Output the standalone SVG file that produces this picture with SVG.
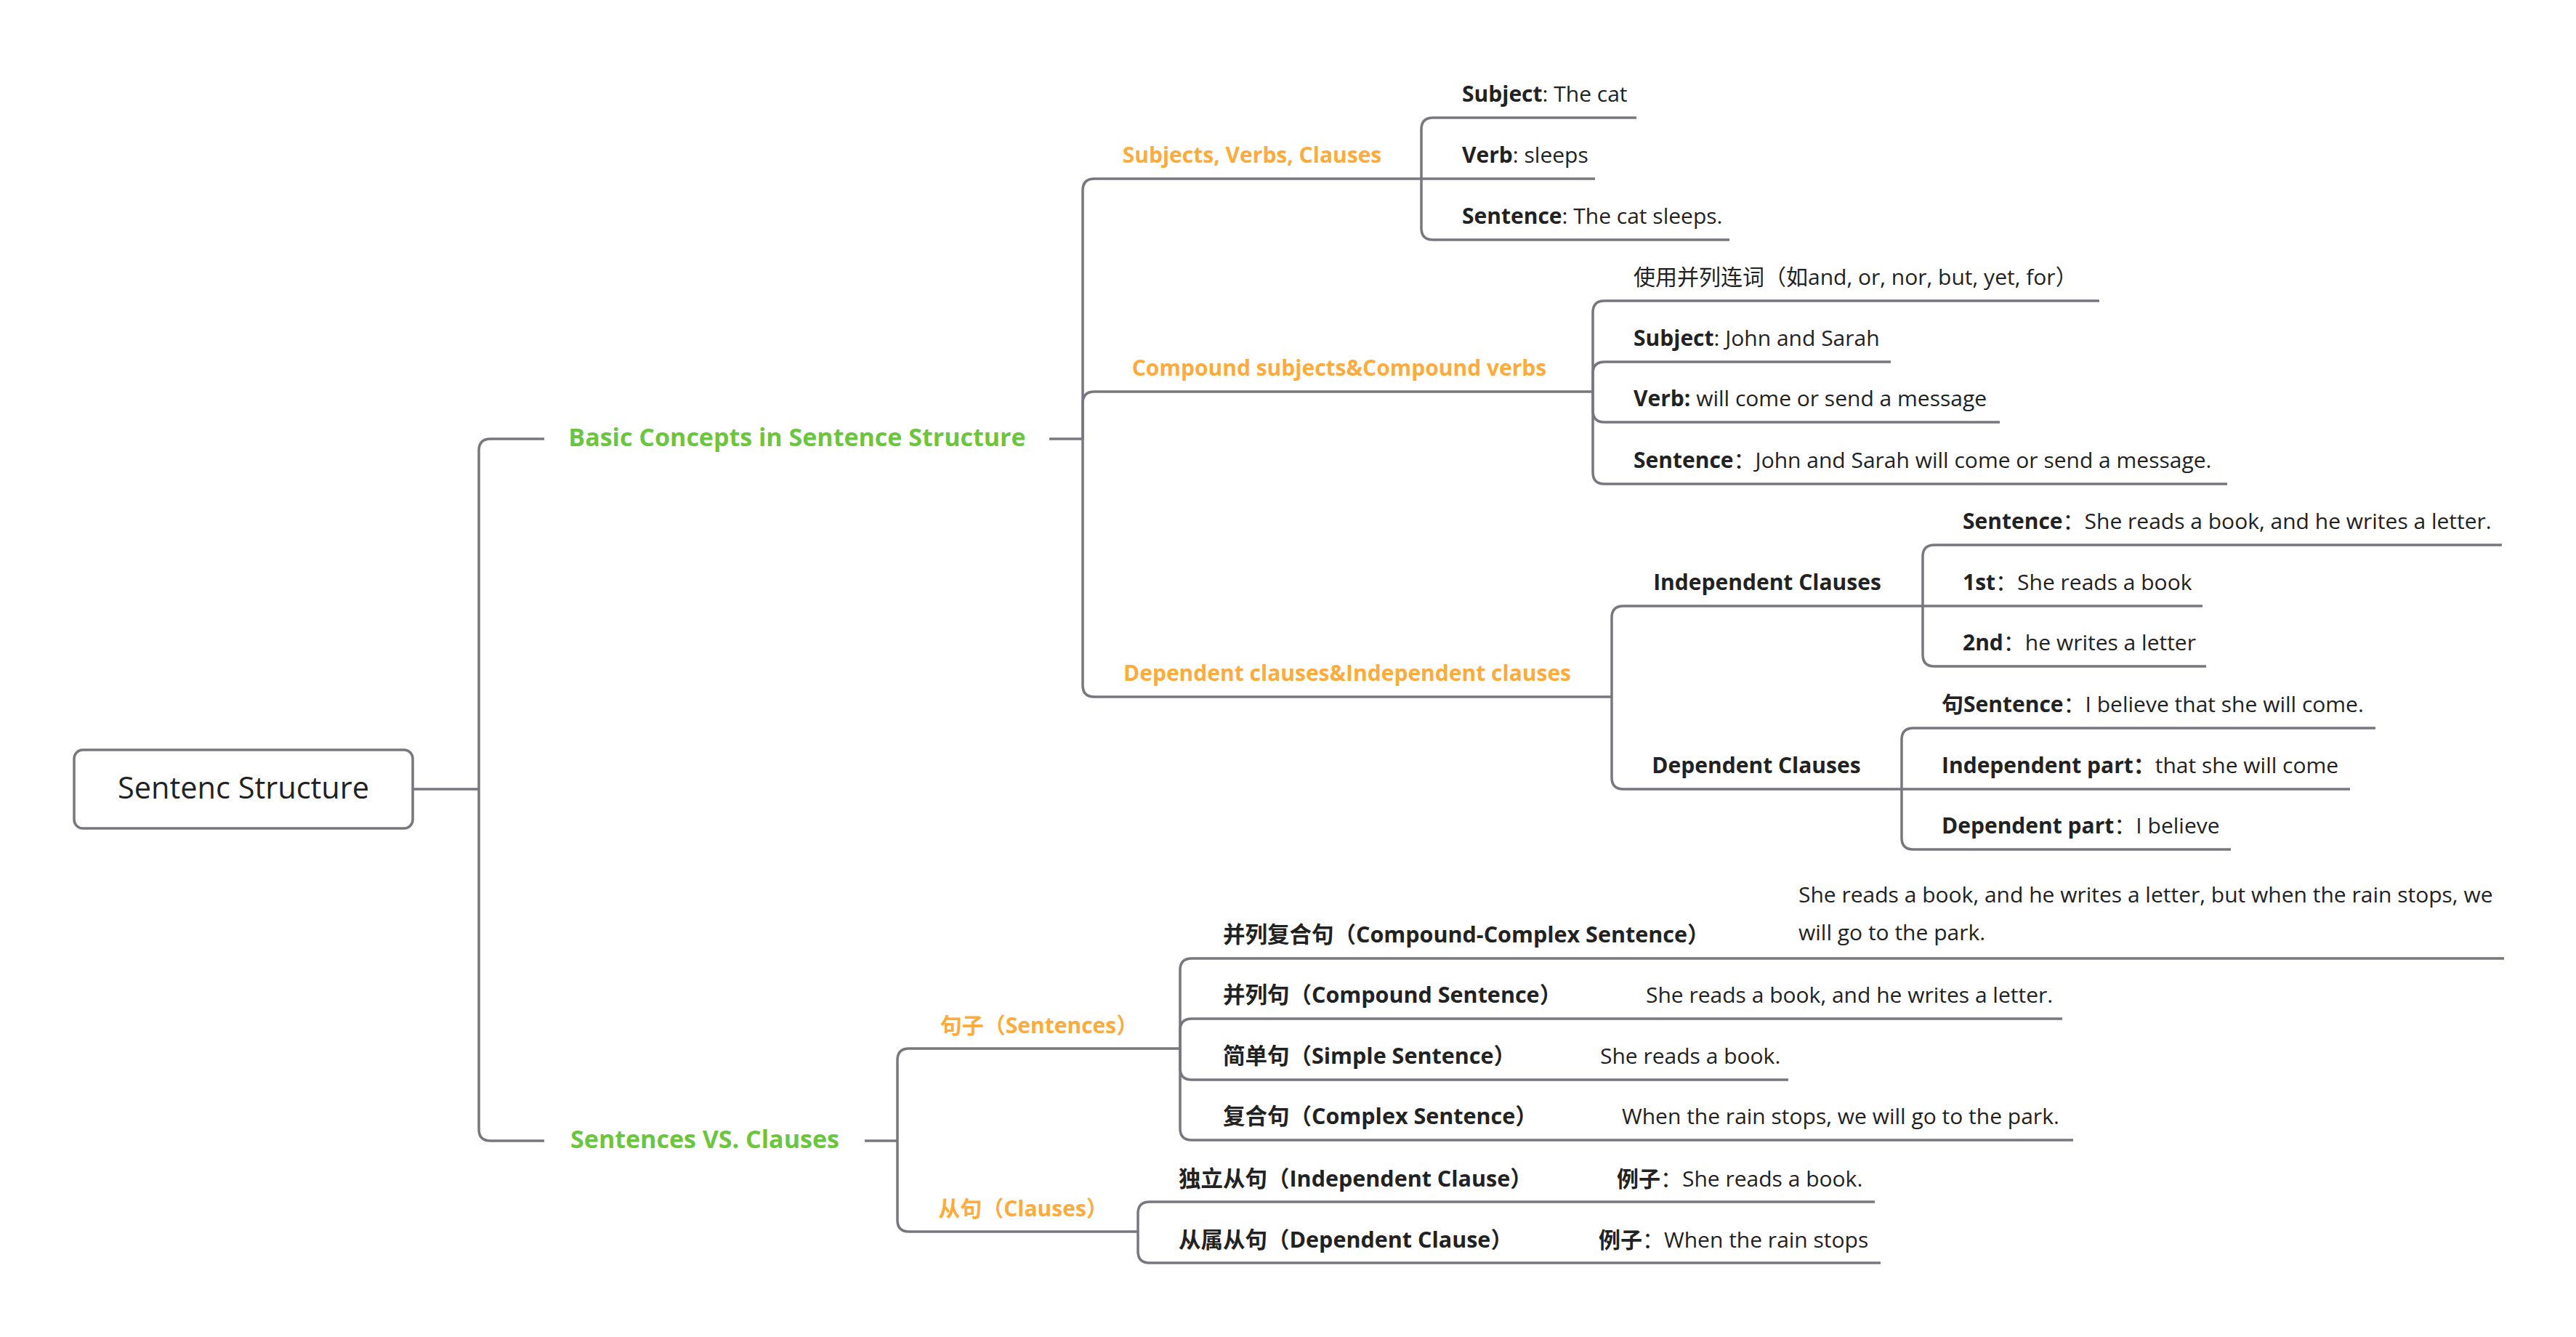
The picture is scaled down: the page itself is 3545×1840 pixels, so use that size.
<svg xmlns="http://www.w3.org/2000/svg" width="3545" height="1840" viewBox="0 0 3545 1840">
<style>
text{font-family:"Open Sans","Noto Sans CJK SC",sans-serif;fill:#222222}
.root{font-size:41.5px}
.l1{font-size:34px;font-weight:700;fill:#6cc53e}
.l2{font-size:30px;font-weight:700;fill:#fdab3b}
.lf{font-size:30px}
.lc{font-size:30.5px}
.b{font-weight:700}
.mid{text-anchor:middle}
.c path{fill:none;stroke:#77777f;stroke-width:3.5}
</style>
<rect width="3545" height="1840" fill="#ffffff"/>
<g class="c" id="connectors">
<path d="M568 1086H659"/>
<path d="M659 1086V620Q659 604 675 604H749"/>
<path d="M659 1086V1554Q659 1570 675 1570H749"/>
<path d="M1444 604H1490"/>
<path d="M1490 604V262Q1490 246 1506 246H1956"/>
<path d="M1490 604V555Q1490 539 1506 539H2192"/>
<path d="M1490 604V943Q1490 959 1506 959H2218"/>
<path d="M1956 246V178Q1956 162 1972 162H2252"/>
<path d="M1956 246H2195"/>
<path d="M1956 246V314Q1956 330 1972 330H2380"/>
<path d="M2192 539V430Q2192 414 2208 414H2889"/>
<path d="M2192 539V514Q2192 498 2208 498H2602"/>
<path d="M2192 539V565Q2192 581 2208 581H2752"/>
<path d="M2192 539V650Q2192 666 2208 666H3065"/>
<path d="M2218 959V850Q2218 834 2234 834H2646"/>
<path d="M2218 959V1070Q2218 1086 2234 1086H2617"/>
<path d="M2646 834V766Q2646 750 2662 750H3443"/>
<path d="M2646 834H3031"/>
<path d="M2646 834V901Q2646 917 2662 917H3036"/>
<path d="M2617 1086V1018Q2617 1002 2633 1002H3269"/>
<path d="M2617 1086H3234"/>
<path d="M2617 1086V1153Q2617 1169 2633 1169H3070"/>
<path d="M1190 1570H1235"/>
<path d="M1235 1570V1459Q1235 1443 1251 1443H1624"/>
<path d="M1235 1570V1679Q1235 1695 1251 1695H1566"/>
<path d="M1624 1443V1335Q1624 1319 1640 1319H3446"/>
<path d="M1624 1443V1418Q1624 1402 1640 1402H2838"/>
<path d="M1624 1443V1470Q1624 1486 1640 1486H2461"/>
<path d="M1624 1443V1553Q1624 1569 1640 1569H2853"/>
<path d="M1566 1695V1670Q1566 1654 1582 1654H2580"/>
<path d="M1566 1695V1722Q1566 1738 1582 1738H2588"/>
</g>
<g id="root">
<rect x="102" y="1032" width="466" height="108" rx="12" fill="#ffffff" stroke="#77777f" stroke-width="3.5"/>
<text class="root mid" x="335" y="1099">Sentenc Structure</text>
</g>
<g id="basic"><text class="l1 mid" x="1097" y="614">Basic Concepts in Sentence Structure</text></g>
<g id="svc"><text class="l1 mid" x="970" y="1580">Sentences VS. Clauses</text></g>
<g id="svc-branch"><text class="l2 mid" x="1723" y="224">Subjects, Verbs, Clauses</text></g>
<g id="compound"><text class="l2 mid" x="1843" y="517">Compound subjects&amp;Compound verbs</text></g>
<g id="depind"><text class="l2 mid" x="1854" y="937">Dependent clauses&amp;Independent clauses</text></g>
<g id="sentences"><text class="l2 mid" x="1430" y="1422">句子（Sentences）</text></g>
<g id="clauses"><text class="l2 mid" x="1408" y="1674">从句（Clauses）</text></g>
<g id="leaf-subject"><text class="lf" x="2012" y="140"><tspan class="b">Subject</tspan>: The cat</text></g>
<g id="leaf-verb"><text class="lf" x="2012" y="224"><tspan class="b">Verb</tspan>: sleeps</text></g>
<g id="leaf-sentence"><text class="lf" x="2012" y="308"><tspan class="b">Sentence</tspan>: The cat sleeps.</text></g>
<g id="leaf-conj"><text class="lf" x="2248" y="392">使用并列连词（如and, or, nor, but, yet, for）</text></g>
<g id="leaf-csubject"><text class="lf" x="2248" y="476"><tspan class="b">Subject</tspan>: John and Sarah</text></g>
<g id="leaf-cverb"><text class="lf" x="2248" y="559"><tspan class="b">Verb:</tspan> will come or send a message</text></g>
<g id="leaf-csentence"><text class="lf" x="2248" y="644"><tspan class="b">Sentence</tspan>：John and Sarah will come or send a message.</text></g>
<g id="indep"><text class="lf b mid" x="2432" y="812">Independent Clauses</text></g>
<g id="dep"><text class="lf b mid" x="2417" y="1064">Dependent Clauses</text></g>
<g id="leaf-isentence"><text class="lf" x="2701" y="728"><tspan class="b">Sentence</tspan>：She reads a book, and he writes a letter.</text></g>
<g id="leaf-1st"><text class="lf" x="2701" y="812"><tspan class="b">1st</tspan>：She reads a book</text></g>
<g id="leaf-2nd"><text class="lf" x="2701" y="895"><tspan class="b">2nd</tspan>：he writes a letter</text></g>
<g id="leaf-dsentence"><text class="lf" x="2672" y="980"><tspan class="b">句Sentence</tspan>：I believe that she will come.</text></g>
<g id="leaf-ipart"><text class="lf" x="2672" y="1064"><tspan class="b">Independent part：</tspan>that she will come</text></g>
<g id="leaf-dpart"><text class="lf" x="2672" y="1147"><tspan class="b">Dependent part</tspan>：I believe</text></g>
<g id="leaf-cc">
<text class="lc b" x="1683" y="1297">并列复合句（Compound-Complex Sentence）</text>
<text class="lf" x="2475" y="1242">She reads a book, and he writes a letter, but when the rain stops, we</text>
<text class="lf" x="2475" y="1294">will go to the park.</text>
</g>
<g id="leaf-cs">
<text class="lc b" x="1683" y="1380">并列句（Compound Sentence）</text>
<text class="lf" x="2265" y="1380">She reads a book, and he writes a letter.</text>
</g>
<g id="leaf-ss">
<text class="lc b" x="1683" y="1464">简单句（Simple Sentence）</text>
<text class="lf" x="2202" y="1464">She reads a book.</text>
</g>
<g id="leaf-cx">
<text class="lc b" x="1683" y="1547">复合句（Complex Sentence）</text>
<text class="lf" x="2232" y="1547">When the rain stops, we will go to the park.</text>
</g>
<g id="leaf-ic">
<text class="lc b" x="1622" y="1633">独立从句（Independent Clause）</text>
<text class="lf" x="2225" y="1633"><tspan class="b">例子</tspan>：She reads a book.</text>
</g>
<g id="leaf-dc">
<text class="lc b" x="1622" y="1717">从属从句（Dependent Clause）</text>
<text class="lf" x="2200" y="1717"><tspan class="b">例子</tspan>：When the rain stops</text>
</g>
</svg>
